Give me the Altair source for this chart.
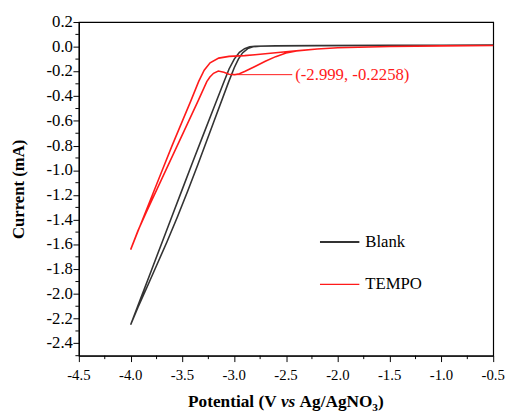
import altair as alt
import pandas as pd

# ---------------- data ----------------
x_major_ticks = [round(-4.5 + 0.5 * k, 1) for k in range(9)]
x_minor_ticks = [round(-4.25 + 0.5 * k, 2) for k in range(8)]
y_major_ticks = [round(-2.4 + 0.2 * k, 1) for k in range(14)]
y_minor_ticks = [round(-2.5 + 0.2 * k, 1) for k in range(14)]
x_tick_labels = [f"{v:.1f}" for v in x_major_ticks]
y_tick_labels = [f"{v:.1f}" for v in y_major_ticks]

series_names = ["Blank", "TEMPO"]
series_colors = ["#333333", "#ff1a1a"]

blank_fwd_v = [-0.5, -1.0, -1.5, -2.0, -2.4, -2.6, -2.75, -2.82, -2.87, -2.92, -2.96, -3.0,
               -3.053, -3.2, -3.35, -3.45, -3.55, -3.65, -3.75, -3.85, -3.93, -4.0]
blank_fwd_i = [0.013, 0.012, 0.011, 0.01, 0.008, 0.006, 0.004, 0.0, -0.015, -0.05, -0.10, -0.17,
               -0.282, -0.613, -0.951, -1.17, -1.38, -1.58, -1.77, -1.96, -2.11, -2.25]
blank_rev_v = [-3.9, -3.8, -3.7, -3.6, -3.5, -3.4, -3.3, -3.2, -3.1, -3.05, -3.0, -2.95,
               -2.9, -2.85, -2.8, -2.6, -2.2, -1.5, -1.0, -0.5]
blank_rev_i = [-2.03, -1.81, -1.59, -1.37, -1.15, -0.93, -0.715, -0.50, -0.285, -0.18, -0.10, -0.045,
               -0.015, 0.0, 0.004, 0.007, 0.009, 0.011, 0.012, 0.013]

tempo_fwd_v = [-0.5, -1.0, -1.5, -2.0, -2.2, -2.4, -2.5, -2.6, -2.7, -2.8, -2.9, -2.95, -2.999,
               -3.05, -3.1, -3.154, -3.2, -3.235, -3.265, -3.35, -3.45, -3.55, -3.65, -3.75,
               -3.85, -3.93, -4.0]
tempo_fwd_i = [0.01, 0.007, 0.002, -0.008, -0.018, -0.035, -0.05, -0.08, -0.118, -0.16, -0.2,
               -0.218, -0.2258, -0.222, -0.207, -0.197, -0.215, -0.245, -0.282, -0.44, -0.62,
               -0.80, -0.98, -1.16, -1.34, -1.49, -1.642]
tempo_rev_v = [-3.9, -3.8, -3.7, -3.6, -3.5, -3.42, -3.344, -3.29, -3.233, -3.15, -3.05, -2.9,
               -2.8, -2.6, -2.4, -2.2, -2.0, -1.5, -1.0, -0.5]
tempo_rev_i = [-1.43, -1.22, -1.01, -0.80, -0.60, -0.44, -0.282, -0.19, -0.13, -0.092, -0.078,
               -0.072, -0.065, -0.048, -0.033, -0.018, -0.008, 0.002, 0.007, 0.01]

ann_v = [-2.999]
ann_i = [-0.2258]
ann_end_v = [-2.44]
ann_text = ["(-2.999, -0.2258)"]

# ---------------- tables ----------------
rows = []
for name, vs, is_ in [("Blank", blank_fwd_v + blank_rev_v, blank_fwd_i + blank_rev_i),
                      ("TEMPO", tempo_fwd_v + tempo_rev_v, tempo_fwd_i + tempo_rev_i)]:
    for k, (v, i) in enumerate(zip(vs, is_)):
        rows.append({"V": v, "I": i, "series": name, "idx": k})
df = pd.DataFrame(rows)

ann_df = pd.DataFrame({"V": ann_v, "I": ann_i, "V2": ann_end_v, "label": ann_text})
xminor_df = pd.DataFrame({"V": x_minor_ticks})
yminor_df = pd.DataFrame({"I": y_minor_ticks})
xlab_df = pd.DataFrame({"V": x_major_ticks, "lab": x_tick_labels})
ylab_df = pd.DataFrame({"I": y_major_ticks, "lab": y_tick_labels})
one = pd.DataFrame({"a": [0]})

FONT = "Liberation Serif"
RED = "#ff1a1a"
H = 339

xscale = alt.Scale(domain=[-4.5, -0.5], nice=False, zero=False)
yscale = alt.Scale(domain=[-2.5, 0.2], nice=False, zero=False)

xaxis = alt.Axis(values=x_major_ticks, title=None, grid=False, tickSize=6, labels=False)
yaxis = alt.Axis(values=y_major_ticks, title=None, grid=False, tickSize=6, labels=False)

X = lambda f: alt.X(f, scale=xscale, axis=xaxis)
Y = lambda f: alt.Y(f, scale=yscale, axis=yaxis)

lines = alt.Chart(df).mark_line(strokeWidth=1.6).encode(
    x=X("V:Q"),
    y=Y("I:Q"),
    color=alt.Color(
        "series:N",
        scale=alt.Scale(domain=series_names, range=series_colors),
        legend=alt.Legend(
            title=None, orient="none", legendX=244, legendY=202.5,
            symbolType="stroke", symbolSize=1600, symbolStrokeWidth=1.5,
            labelFont=FONT, labelFontSize=17, labelOffset=5, rowPadding=14,
            padding=0, labelColor="black",
        ),
    ),
    strokeWidth=alt.StrokeWidth("series:N", scale=alt.Scale(domain=series_names, range=[2.0, 1.4]), legend=None),
    order="idx:Q",
)

# minor ticks, positioned by the scales
xminor = alt.Chart(xminor_df).mark_rule(color="black", strokeWidth=1).encode(
    x=X("V:Q"), y=alt.value(H), y2=alt.value(H + 3.5)
)
yminor = alt.Chart(yminor_df).mark_rule(color="black", strokeWidth=1).encode(
    y=Y("I:Q"), x=alt.value(-3.5), x2=alt.value(0)
)

# tick labels, positioned by the scales
xlabels = alt.Chart(xlab_df).mark_text(
    align="center", baseline="alphabetic", font=FONT, fontSize=15, color="black"
).encode(x=X("V:Q"), y=alt.value(H + 25), text="lab:N")
ylabels = alt.Chart(ylab_df).mark_text(
    align="right", baseline="middle", font=FONT, fontSize=17, color="black"
).encode(y=Y("I:Q"), x=alt.value(-6), text="lab:N")

leader = alt.Chart(ann_df).mark_rule(color=RED, strokeWidth=1).encode(
    x=X("V:Q"), x2="V2:Q", y=Y("I:Q")
)
ann = alt.Chart(ann_df).mark_text(
    align="left", baseline="middle", dx=3, font=FONT, fontSize=17, color=RED
).encode(
    x=X("V2:Q"), y=Y("I:Q"), text="label:N"
)

# axis titles (mixed styles)
ytitle = alt.Chart(one).mark_text(
    text="Current (mA)", angle=270, font=FONT, fontSize=17, fontWeight="bold",
    align="center", baseline="middle", color="black"
).encode(x=alt.value(-61), y=alt.value(170))

TB = 391
FS = 17.5
xt1 = alt.Chart(one).mark_text(text="Potential (V", font=FONT, fontSize=FS, fontWeight="bold",
                               align="left", baseline="alphabetic", color="black").encode(x=alt.value(111), y=alt.value(TB))
xt2 = alt.Chart(one).mark_text(text="vs", font=FONT, fontSize=FS, fontWeight="bold", fontStyle="italic",
                               align="left", baseline="alphabetic", color="black").encode(x=alt.value(205.3), y=alt.value(TB))
xt3 = alt.Chart(one).mark_text(text="Ag/AgNO", font=FONT, fontSize=FS, fontWeight="bold",
                               align="left", baseline="alphabetic", color="black").encode(x=alt.value(224.3), y=alt.value(TB))
xt4 = alt.Chart(one).mark_text(text="3", font=FONT, fontSize=11.5, fontWeight="bold",
                               align="left", baseline="alphabetic", color="black").encode(x=alt.value(298.2), y=alt.value(TB + 4))
xt5 = alt.Chart(one).mark_text(text=")", font=FONT, fontSize=FS, fontWeight="bold",
                               align="left", baseline="alphabetic", color="black").encode(x=alt.value(304), y=alt.value(TB))

chart = alt.layer(lines, xminor, yminor, xlabels, ylabels, leader, ann,
                  ytitle, xt1, xt2, xt3, xt4, xt5).properties(
    width=421, height=H,
    padding={"left": 72, "top": 11, "right": 13, "bottom": 56},
    autosize=alt.AutoSizeParams(type="none"),
    background="white",
).configure_view(
    stroke="black", strokeWidth=1.2
).configure_axis(
    domainColor="black", domainWidth=1.2, tickColor="black", tickWidth=1,
)

chart.save("out.html", embed_options={"renderer": "svg", "actions": False})
